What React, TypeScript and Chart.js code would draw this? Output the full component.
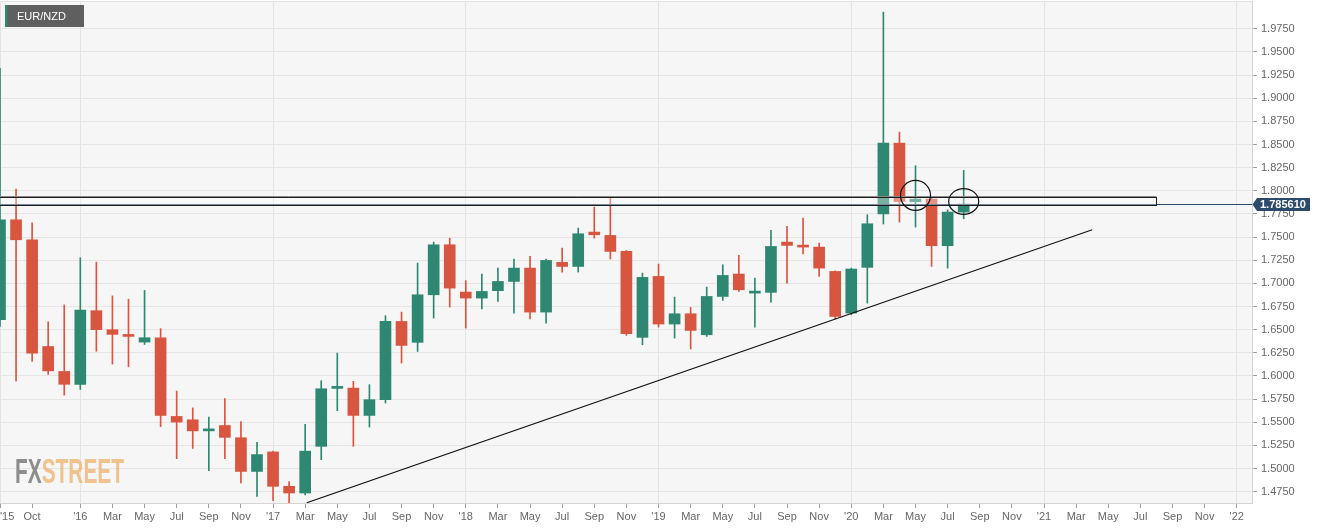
import React, { useEffect, useRef } from 'react';
import { Chart, registerables } from 'chart.js';

Chart.register(...registerables);

// Monthly candles, Aug 2015 .. Aug 2020 (index 0 = Aug 2015)
const months = [
  "Aug '15", "Sep '15", "Oct '15", "Nov '15", "Dec '15",
  "Jan '16", "Feb '16", "Mar '16", "Apr '16", "May '16", "Jun '16", "Jul '16", "Aug '16", "Sep '16", "Oct '16", "Nov '16", "Dec '16",
  "Jan '17", "Feb '17", "Mar '17", "Apr '17", "May '17", "Jun '17", "Jul '17", "Aug '17", "Sep '17", "Oct '17", "Nov '17", "Dec '17",
  "Jan '18", "Feb '18", "Mar '18", "Apr '18", "May '18", "Jun '18", "Jul '18", "Aug '18", "Sep '18", "Oct '18", "Nov '18", "Dec '18",
  "Jan '19", "Feb '19", "Mar '19", "Apr '19", "May '19", "Jun '19", "Jul '19", "Aug '19", "Sep '19", "Oct '19", "Nov '19", "Dec '19",
  "Jan '20", "Feb '20", "Mar '20", "Apr '20", "May '20", "Jun '20", "Jul '20", "Aug '20",
];

const opens = [
  1.6608, 1.7687, 1.7471, 1.6318, 1.6049,
  1.5910, 1.6705, 1.6500, 1.6446, 1.6366, 1.6413, 1.5563, 1.5527, 1.5407, 1.5465, 1.5333, 1.4969,
  1.5180, 1.4808, 1.4736, 1.5240, 1.5866, 1.5869, 1.5574, 1.5744, 1.6589, 1.6363, 1.6877, 1.7417,
  1.6906, 1.6841, 1.6921, 1.7021, 1.7165, 1.6690, 1.7227, 1.7183, 1.7554, 1.7518, 1.7345, 1.6417,
  1.7075, 1.6561, 1.6672, 1.6445, 1.6859, 1.7101, 1.6895, 1.6903, 1.7446, 1.7406, 1.7392, 1.7129,
  1.6679, 1.7173, 1.7749, 1.8515, 1.7882, 1.7911, 1.7407, 1.7770,
];
const highs = [
  1.9323, 1.8018, 1.7653, 1.6585, 1.6767,
  1.7277, 1.7230, 1.6865, 1.6829, 1.6924, 1.6511, 1.5837, 1.5655, 1.5556, 1.5757, 1.5508, 1.5283,
  1.5188, 1.4860, 1.5479, 1.5949, 1.6247, 1.5942, 1.5906, 1.6651, 1.6690, 1.7219, 1.7446, 1.7489,
  1.7029, 1.7101, 1.7165, 1.7263, 1.7291, 1.7263, 1.7381, 1.7597, 1.7824, 1.7939, 1.7356, 1.7111,
  1.7209, 1.6852, 1.6741, 1.6960, 1.7201, 1.7302, 1.7057, 1.7572, 1.7615, 1.7705, 1.7435, 1.7135,
  1.7165, 1.7741, 1.9930, 1.8634, 1.8271, 1.7920, 1.7795, 1.8220,
];
const lows = [
  1.6535, 1.5946, 1.6158, 1.6017, 1.5793,
  1.5855, 1.6267, 1.6129, 1.6099, 1.6340, 1.5453, 1.5107, 1.5217, 1.4977, 1.5107, 1.4845, 1.4699,
  1.4652, 1.4622, 1.4714, 1.5096, 1.5625, 1.5240, 1.5448, 1.5708, 1.6140, 1.6265, 1.6625, 1.6744,
  1.6517, 1.6723, 1.6805, 1.6679, 1.6615, 1.6571, 1.7122, 1.7122, 1.7489, 1.7263, 1.6438, 1.6337,
  1.6528, 1.6409, 1.6291, 1.6427, 1.6816, 1.6913, 1.6528, 1.6798, 1.7003, 1.7317, 1.7075, 1.6615,
  1.6661, 1.6787, 1.7641, 1.7662, 1.7608, 1.7183, 1.7165, 1.7698,
];
const closes = [
  1.7687, 1.7471, 1.6246, 1.6055, 1.5910,
  1.6712, 1.6500, 1.6449, 1.6427, 1.6413, 1.5574, 1.5502, 1.5407, 1.5428, 1.5337, 1.4969, 1.5151,
  1.4808, 1.4736, 1.5188, 1.5862, 1.5872, 1.5574, 1.5744, 1.6589, 1.6330, 1.6877, 1.7417, 1.6949,
  1.6841, 1.6913, 1.7021, 1.7165, 1.6690, 1.7248, 1.7183, 1.7536, 1.7525, 1.7345, 1.6456, 1.7065,
  1.6561, 1.6672, 1.6492, 1.6859, 1.7086, 1.6931, 1.6902, 1.7399, 1.7410, 1.7392, 1.7165, 1.6643,
  1.7155, 1.7644, 1.8515, 1.7885, 1.7911, 1.7407, 1.7770, 1.7856,
];

// X axis tick labels (month index from Aug 2015)
const xTickIdx = [0, 2, 5, 7, 9, 11, 13, 15, 17, 19, 21, 23, 25, 27, 29, 31, 33, 35, 37, 39, 41, 43, 45, 47, 49, 51, 53, 55, 57, 59, 61, 63, 65, 67, 69, 71, 73, 75, 77];
const xTickText = ["'15", 'Oct', "'16", 'Mar', 'May', 'Jul', 'Sep', 'Nov', "'17", 'Mar', 'May', 'Jul', 'Sep', 'Nov', "'18", 'Mar', 'May', 'Jul', 'Sep', 'Nov', "'19", 'Mar', 'May', 'Jul', 'Sep', 'Nov', "'20", 'Mar', 'May', 'Jul', 'Sep', 'Nov', "'21", 'Mar', 'May', 'Jul', 'Sep', 'Nov', "'22"];
const xRange = [0, 77.95];

const yTicks = [1.475, 1.5, 1.525, 1.55, 1.575, 1.6, 1.625, 1.65, 1.675, 1.7, 1.725, 1.75, 1.775, 1.8, 1.825, 1.85, 1.875, 1.9, 1.925, 1.95, 1.975];
const yRange = [1.4628, 2.005];

// Annotations (data units)
const trendX = [19.1, 68.0];
const trendY = [1.4631, 1.7579];
const zoneX = [-1, 72.0];
const zoneY = [1.785, 1.7936];
const lastPrice = 1.78561;
const circleX = [57, 60];
const circleY = [1.795, 1.7885];
const circleRX = [0.934, 0.934];
const circleRY = [0.0162, 0.0139];

const UP = '#2e8871';
const DOWN = '#d8553f';
const FONT = "Arial, 'Liberation Sans', sans-serif";

export default function App() {
  const ref = useRef<HTMLCanvasElement>(null);

  useEffect(() => {
    document.body.style.margin = '0';
    const canvas = ref.current!;
    const colors = opens.map((o, i) => (closes[i] >= o ? UP : DOWN));
    const bodies = opens.map((o, i) => ({ x: i, y: [o, closes[i]] }));
    const wicks = lows.map((l, i) => ({ x: i, y: [l, highs[i]] }));
    const trend = trendX.map((x, i) => ({ x, y: trendY[i] }));

    const labelFor = (v: number) => {
      const k = xTickIdx.indexOf(v);
      return k >= 0 ? xTickText[k] : '';
    };

    const overlay = {
      id: 'overlay',
      beforeDraw(chart: any) {
        const { ctx, chartArea: a } = chart;
        ctx.save();
        ctx.fillStyle = '#ffffff';
        ctx.fillRect(0, 0, chart.width, chart.height);
        ctx.fillStyle = '#f6f6f7';
        ctx.fillRect(a.left, a.top, a.right - a.left, a.bottom - a.top);
        ctx.strokeStyle = '#e2e2e2';
        ctx.lineWidth = 1;
        ctx.beginPath();
        ctx.moveTo(a.left, a.top + 0.5);
        ctx.lineTo(a.right, a.top + 0.5);
        ctx.stroke();
        ctx.restore();
      },
      beforeDatasetsDraw(chart: any) {
        const { ctx } = chart;
        ctx.save();
        ctx.font = `bold 35px ${FONT}`;
        const wFX = ctx.measureText('FX').width;
        const wST = ctx.measureText('STREET').width;
        const sc = 109 / (wFX + wST);
        ctx.translate(15, 483);
        ctx.scale(sc, 1);
        ctx.textBaseline = 'alphabetic';
        ctx.fillStyle = 'rgba(130,130,130,0.9)';
        ctx.fillText('FX', 0, 0);
        ctx.fillStyle = 'rgba(238,184,122,0.85)';
        ctx.fillText('STREET', wFX, 0);
        ctx.restore();
      },
      afterDatasetsDraw(chart: any) {
        const { ctx, chartArea: a } = chart;
        const xs = chart.scales.x;
        const ys = chart.scales.y;
        ctx.save();
        ctx.beginPath();
        ctx.rect(a.left, a.top, a.right - a.left, a.bottom - a.top);
        ctx.clip();
        // price line
        const py = Math.round(ys.getPixelForValue(lastPrice)) + 0.5;
        ctx.strokeStyle = '#2b4a68';
        ctx.lineWidth = 1;
        ctx.beginPath();
        ctx.moveTo(a.left, py);
        ctx.lineTo(a.right, py);
        ctx.stroke();
        // zone rectangle
        const x0 = xs.getPixelForValue(zoneX[0]);
        const x1 = Math.round(xs.getPixelForValue(zoneX[1])) + 0.5;
        const yT = Math.round(ys.getPixelForValue(zoneY[1])) + 0.5;
        const yB = Math.round(ys.getPixelForValue(zoneY[0])) + 0.5;
        ctx.fillStyle = 'rgba(255,255,255,0.35)';
        ctx.fillRect(x0, yT, x1 - x0, yB - yT);
        ctx.strokeStyle = '#8a8a8a';
        ctx.beginPath();
        ctx.moveTo(x0, yT - 1);
        ctx.lineTo(x1, yT - 1);
        ctx.stroke();
        ctx.strokeStyle = '#1e1e1e';
        ctx.strokeRect(x0, yT, x1 - x0, yB - yT);
        // circles
        ctx.strokeStyle = '#111111';
        ctx.lineWidth = 1.2;
        circleX.forEach((cx, i) => {
          const px = xs.getPixelForValue(cx);
          const pyc = ys.getPixelForValue(circleY[i]);
          const rx = Math.abs(xs.getPixelForValue(cx + circleRX[i]) - px);
          const ry = Math.abs(ys.getPixelForValue(circleY[i] + circleRY[i]) - pyc);
          ctx.beginPath();
          ctx.ellipse(px, pyc, rx, ry, 0, 0, Math.PI * 2);
          ctx.stroke();
        });
        ctx.restore();
      },
      afterDraw(chart: any) {
        const { ctx, chartArea: a } = chart;
        const ys = chart.scales.y;
        ctx.save();
        // last price label
        const py = Math.round(ys.getPixelForValue(lastPrice)) + 0.5;
        const r = a.right;
        ctx.fillStyle = '#2c4a6b';
        ctx.beginPath();
        ctx.moveTo(r + 0.5, py);
        ctx.lineTo(r + 5, py - 6.5);
        ctx.lineTo(r + 58, py - 6.5);
        ctx.lineTo(r + 58, py + 6.5);
        ctx.lineTo(r + 5, py + 6.5);
        ctx.closePath();
        ctx.fill();
        ctx.fillStyle = '#ffffff';
        ctx.font = `bold 11px ${FONT}`;
        ctx.textBaseline = 'middle';
        ctx.textAlign = 'left';
        ctx.fillText(lastPrice.toFixed(6), r + 8, py + 0.5);
        // symbol box
        ctx.fillStyle = '#5f5f5f';
        ctx.fillRect(5, 5, 79, 22);
        ctx.fillStyle = UP;
        ctx.fillRect(5, 5, 2.5, 22);
        ctx.fillStyle = '#ffffff';
        ctx.font = `11px ${FONT}`;
        ctx.fillText('EUR/NZD', 17, 16.5);
        ctx.restore();
      },
    };

    const chart = new Chart(canvas, {
      type: 'bar',
      data: {
        labels: months,
        datasets: [
          {
            type: 'line',
            data: trend,
            borderColor: '#111111',
            borderWidth: 1.2,
            pointRadius: 0,
            order: 0,
          } as any,
          {
            type: 'bar',
            data: bodies,
            backgroundColor: colors,
            borderWidth: 0,
            barThickness: 11,
            minBarLength: 2,
            grouped: false,
            order: 1,
          } as any,
          {
            type: 'bar',
            data: wicks,
            backgroundColor: colors,
            borderWidth: 0,
            barThickness: 1,
            grouped: false,
            order: 2,
          } as any,
        ],
      },
      options: {
        animation: false,
        responsive: false,
        devicePixelRatio: 1,
        layout: { padding: { top: 1, left: 0, right: 0, bottom: 0 } },
        plugins: { legend: { display: false }, tooltip: { enabled: false } },
        scales: {
          x: {
            type: 'linear',
            min: xRange[0],
            max: xRange[1],
            offset: false,
            afterBuildTicks: (s: any) => {
              s.ticks = [...xTickIdx.map((v) => ({ value: v })), { value: xRange[1] }];
            },
            afterFit: (s: any) => {
              s.paddingLeft = 0;
              s.paddingRight = 0;
              s.height = 26;
            },
            ticks: {
              autoSkip: false,
              maxRotation: 0,
              minRotation: 0,
              align: 'inner',
              padding: 2,
              color: '#666666',
              font: { family: FONT, size: 11 },
              callback: (v: any) => labelFor(Number(v)),
            },
            grid: {
              offset: false,
              tickLength: 5,
              color: (c: any) => {
                const t = labelFor(c.tick ? c.tick.value : -1);
                return t.startsWith("'") ? '#e3e3e3' : 'rgba(0,0,0,0)';
              },
              tickColor: (c: any) => (labelFor(c.tick ? c.tick.value : -1) ? '#a0a0a0' : 'rgba(0,0,0,0)'),
            },
            border: { color: '#d4d4d4' },
          } as any,
          y: {
            type: 'linear',
            position: 'right',
            min: yRange[0],
            max: yRange[1],
            afterBuildTicks: (s: any) => {
              s.ticks = yTicks.map((v) => ({ value: v }));
            },
            afterFit: (s: any) => {
              s.width = 71;
              s.paddingTop = 0;
              s.paddingBottom = 0;
            },
            ticks: {
              autoSkip: false,
              padding: 4,
              color: '#666666',
              font: { family: FONT, size: 11 },
              callback: (v: any) => Number(v).toFixed(4),
            },
            grid: { color: '#e5e5e5', tickColor: '#a0a0a0', tickLength: 5 },
            border: { color: '#d4d4d4' },
          } as any,
        },
      },
      plugins: [overlay],
    });

    return () => chart.destroy();
  }, []);

  return (
    <div style={{ width: 1323, height: 529 }}>
      <canvas ref={ref} width={1323} height={529} style={{ display: 'block' }} />
    </div>
  );
}
